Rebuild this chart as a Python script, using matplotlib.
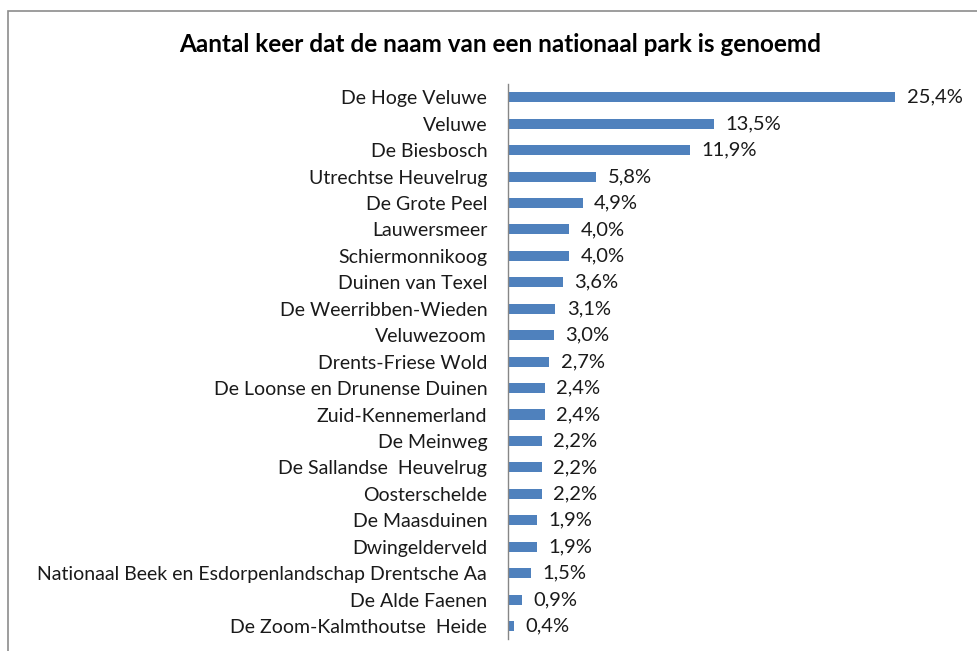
import matplotlib.pyplot as plt
from matplotlib.patches import Rectangle

parks = ['De Hoge Veluwe', 'Veluwe', 'De Biesbosch', 'Utrechtse Heuvelrug',
         'De Grote Peel', 'Lauwersmeer', 'Schiermonnikoog', 'Duinen van Texel',
         'De Weerribben-Wieden', 'Veluwezoom', 'Drents-Friese Wold',
         'De Loonse en Drunense Duinen', 'Zuid-Kennemerland', 'De Meinweg',
         'De Sallandse  Heuvelrug', 'Oosterschelde', 'De Maasduinen',
         'Dwingelderveld', 'Nationaal Beek en Esdorpenlandschap Drentsche Aa',
         'De Alde Faenen', 'De Zoom-Kalmthoutse  Heide']
pct = [25.4, 13.5, 11.9, 5.8, 4.9, 4.0, 4.0, 3.6, 3.1, 3.0, 2.7,
       2.4, 2.4, 2.2, 2.2, 2.2, 1.9, 1.9, 1.5, 0.9, 0.4]

plt.rcParams['font.family'] = ['Lato', 'DejaVu Sans']

fig = plt.figure(figsize=(9.78, 6.51), dpi=100)
ax = fig.add_axes([0.5194, 0.018, 0.468, 0.853])

y = list(range(len(parks)))
ax.barh(y, pct, height=0.38, color='#4F81BD')
for yi, v in zip(y, pct):
    ax.text(v + 0.75, yi, ('%.1f%%' % v).replace('.', ','), va='center',
            ha='left', fontsize=14.5, color='#1a1a1a')

ax.set_ylim(len(parks) - 0.5, -0.5)
ax.set_xlim(0, 30)
ax.set_yticks(y)
ax.set_yticklabels(parks, fontsize=14, color='#1a1a1a')
ax.tick_params(axis='y', length=0, pad=15)
ax.set_xticks([])
for s in ['top', 'right', 'bottom']:
    ax.spines[s].set_visible(False)
ax.spines['left'].set_color('#868686')
ax.spines['left'].set_linewidth(1)

fig.text(0.511, 0.931, 'Aantal keer dat de naam van een nationaal park is genoemd',
         ha='center', va='center', fontsize=17.5, fontweight='bold')

fig.patches.append(Rectangle((8 / 978, -0.01), 1.0, 1 - 11 / 651 + 0.01,
                             transform=fig.transFigure, fill=False,
                             edgecolor='#8c8c8c', linewidth=1.2))

fig.savefig('out.png', dpi=100)
